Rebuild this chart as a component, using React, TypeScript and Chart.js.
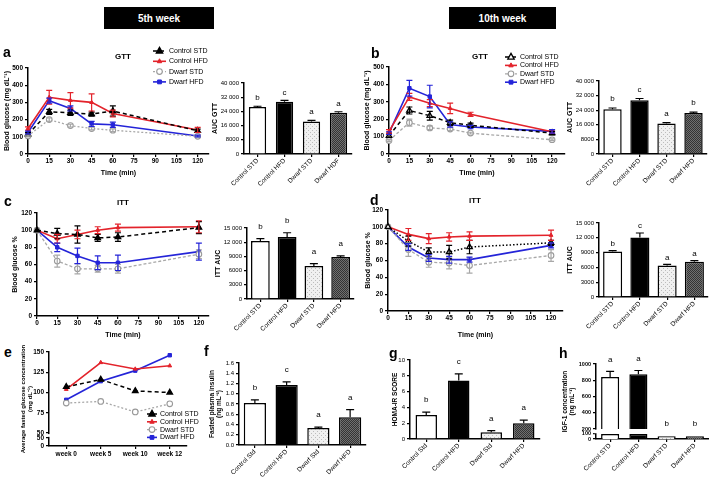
import React, { useEffect, useRef } from "react";
import { Chart, registerables } from "chart.js";
Chart.register(...registerables);

const FONT = "'Liberation Sans', Arial, sans-serif";
Chart.defaults.font.family = FONT;
Chart.defaults.font.size = 7;
Chart.defaults.color = "#000";

// ---------------- DATA ----------------
const times = [0, 15, 30, 45, 60, 120];
const seriesNames = ["Control STD", "Control HFD", "Dwarf STD", "Dwarf HFD"];
const groupsA = ["Control STD", "Control HFD", "Dwarf STD", "Dwarf HDF"];
const groupsB = ["Control STD", "Control HFD", "Dwarf STD", "Dwarf HFD"];
const groupsF = ["Control Std", "Control HFD", "Dwarf Std", "Dwarf HFD"];
const weeks = ["week 0", "week 5", "week 10", "week 12"];

// a: GTT 5th week
const gtt5CtrlStd = [115, 245, 240, 232, 250, 135];
const gtt5CtrlStdErr = [10, 15, 15, 12, 30, 10];
const gtt5CtrlHfd = [148, 330, 312, 300, 235, 140];
const gtt5CtrlHfdErr = [10, 40, 45, 50, 20, 15];
const gtt5DwarfStd = [105, 200, 165, 148, 138, 103];
const gtt5DwarfStdErr = [5, 10, 8, 8, 8, 5];
const gtt5DwarfHfd = [125, 310, 265, 175, 170, 105];
const gtt5DwarfHfdErr = [8, 15, 15, 15, 15, 5];
const aucGtt5 = [26500, 29500, 18300, 23200];
const aucGtt5Err = [400, 700, 700, 600];
const aucGtt5Letters = ["b", "c", "a", "a"];

// b: GTT 10th week
const gtt10CtrlStd = [105, 250, 220, 180, 165, 120];
const gtt10CtrlStdErr = [10, 20, 25, 15, 12, 10];
const gtt10CtrlHfd = [130, 328, 292, 262, 228, 128];
const gtt10CtrlHfdErr = [10, 20, 20, 30, 12, 10];
const gtt10DwarfStd = [78, 180, 150, 143, 120, 82];
const gtt10DwarfStdErr = [5, 20, 10, 8, 5, 5];
const gtt10DwarfHfd = [120, 378, 330, 170, 155, 130];
const gtt10DwarfHfdErr = [8, 45, 65, 15, 10, 10];
const aucGtt10 = [24500, 29500, 16700, 22500];
const aucGtt10Err = [700, 900, 500, 500];
const aucGtt10Letters = ["b", "c", "a", "b"];

// c: ITT 5th week
const itt5CtrlStd = [100, 96, 95, 91, 92, 103];
const itt5CtrlStdErr = [0, 6, 10, 4, 5, 7];
const itt5CtrlHfd = [100, 90, 95, 100, 103, 104];
const itt5CtrlHfdErr = [0, 5, 5, 4, 4, 7];
const itt5DwarfStd = [100, 64, 55, 55, 55, 72];
const itt5DwarfStdErr = [0, 7, 6, 4, 5, 5];
const itt5DwarfHfd = [100, 80, 70, 62, 62, 75];
const itt5DwarfHfdErr = [0, 5, 9, 8, 9, 10];
const aucItt5 = [12250, 13100, 6970, 8870];
const aucItt5Err = [500, 900, 500, 250];
const aucItt5Letters = ["b", "b", "a", "a"];

// d: ITT 10th week
const itt10CtrlStd = [100, 83, 70, 70, 76, 81];
const itt10CtrlStdErr = [0, 6, 5, 8, 8, 3];
const itt10CtrlHfd = [100, 91, 86, 88, 89, 90];
const itt10CtrlHfdErr = [0, 7, 6, 5, 5, 6];
const itt10DwarfStd = [100, 73, 58, 57, 54, 66];
const itt10DwarfStdErr = [0, 8, 6, 7, 9, 7];
const itt10DwarfHfd = [100, 76, 63, 61, 61, 78];
const itt10DwarfHfdErr = [0, 4, 4, 4, 3, 3];
const aucItt10 = [9200, 12070, 6400, 7160];
const aucItt10Err = [200, 900, 200, 200];
const aucItt10Letters = ["b", "c", "a", "a"];

// e: average fasted glucose
const fgCtrlStd = [107, 116, 102, 100];
const fgCtrlHfd = [104, 137, 129, 133];
const fgDwarfStd = [87, 89, 76, 86];
const fgDwarfHfd = [91, 114, 127, 146];
const fgLowerTicks = [0, 50];
const fgUpperTicks = [50, 75, 100, 125, 150];

// f: fasted plasma insulin
const insulin = [0.82, 1.17, 0.33, 0.54];
const insulinErr = [0.06, 0.06, 0.02, 0.15];
const insulinLetters = ["b", "c", "a", "a"];

// g: HOMA-IR
const homa = [3.05, 7.4, 0.85, 2.0];
const homaErr = [0.35, 0.85, 0.2, 0.4];
const homaLetters = ["b", "c", "a", "a"];

// h: IGF-1
const igf = [840, 875, 55, 55];
const igfErr = [70, 45, 0, 0];
const igfLetters = ["a", "a", "b", "b"];
const igfLowerTicks = [0, 100];
const igfUpperTicks = [200, 400, 600, 800, 1000];

// ---------------- HELPERS ----------------
const lowE = (v: number) => 34 + v * 0.2; // broken-axis lower segment of panel e
const lowH = (v: number) => 77 + v * 0.62; // broken-axis lower segment of panel h

const valueAt = (d: any) =>
  d == null ? null : Array.isArray(d) ? d[1] : typeof d === "object" ? d.y : d;

function drawMarker(ctx: CanvasRenderingContext2D, style: string, x: number, y: number, r: number, fill: string, stroke: string, lw: number) {
  ctx.beginPath();
  if (style === "triangle") {
    ctx.moveTo(x, y - r * 1.15);
    ctx.lineTo(x + r, y + r * 0.65);
    ctx.lineTo(x - r, y + r * 0.65);
    ctx.closePath();
  } else if (style === "rect") {
    ctx.rect(x - r * 0.8, y - r * 0.8, r * 1.6, r * 1.6);
  } else {
    ctx.arc(x, y, r, 0, Math.PI * 2);
  }
  ctx.fillStyle = fill;
  ctx.fill();
  ctx.lineWidth = lw;
  ctx.strokeStyle = stroke;
  ctx.stroke();
}

const errorBars = {
  id: "errorBars",
  afterDatasetsDraw(chart: any) {
    const ctx = chart.ctx;
    chart.data.datasets.forEach((ds: any, i: number) => {
      if (!ds.errs) return;
      const meta = chart.getDatasetMeta(i);
      const ys = chart.scales[meta.yAxisID];
      const isBar = meta.type === "bar";
      ctx.save();
      ctx.strokeStyle = ds.errColor || ds.borderColor || "#000";
      ctx.lineWidth = 1.2;
      ctx.setLineDash([]);
      meta.data.forEach((el: any, j: number) => {
        const e = ds.errs[j];
        const v = valueAt(ds.data[j]);
        if (!e || v == null) return;
        const top = ys.getPixelForValue(v + e);
        const bot = ys.getPixelForValue(isBar ? v : v - e);
        const cap = isBar ? 4 : 3;
        ctx.beginPath();
        ctx.moveTo(el.x, top);
        ctx.lineTo(el.x, bot);
        ctx.moveTo(el.x - cap, top);
        ctx.lineTo(el.x + cap, top);
        if (!isBar) {
          ctx.moveTo(el.x - cap, bot);
          ctx.lineTo(el.x + cap, bot);
        }
        ctx.stroke();
      });
      ctx.restore();
    });
  },
};

const letters = {
  id: "letters",
  afterDatasetsDraw(chart: any, _a: any, o: any) {
    if (!o || !o.labels) return;
    const ctx = chart.ctx;
    const ys = chart.scales.y;
    ctx.save();
    ctx.font = `8px ${FONT}`;
    ctx.textAlign = "center";
    ctx.textBaseline = "bottom";
    ctx.fillStyle = "#000";
    o.labels.forEach((lab: string, j: number) => {
      let top = Infinity;
      let x = 0;
      chart.data.datasets.forEach((ds: any, i: number) => {
        const el = chart.getDatasetMeta(i).data[j];
        const v = valueAt(ds.data[j]);
        if (!el || v == null) return;
        x = el.x;
        const e = ds.errs ? ds.errs[j] || 0 : 0;
        top = Math.min(top, ys.getPixelForValue(v + e));
      });
      ctx.fillText(lab, x, top - (o.gap ?? 4));
    });
    ctx.restore();
  },
};

const overlay = {
  id: "overlay",
  afterDraw(chart: any, _a: any, o: any) {
    if (!o || (!o.title && !o.legend)) return;
    const ctx = chart.ctx;
    const ox = o.ox || 0;
    const oy = o.oy || 0;
    ctx.save();
    if (o.title) {
      ctx.font = `bold 8px ${FONT}`;
      ctx.textAlign = "center";
      ctx.textBaseline = "middle";
      ctx.fillStyle = "#000";
      ctx.fillText(o.title.text, o.title.x - ox, o.title.y - oy);
    }
    if (o.legend) {
      const L = o.legend;
      chart.data.datasets.forEach((ds: any, i: number) => {
        const y = L.y + i * L.rowH - oy;
        const x = L.x - ox;
        ctx.strokeStyle = ds.borderColor;
        ctx.lineWidth = ds.borderWidth;
        ctx.setLineDash(ds.borderDash || []);
        ctx.beginPath();
        ctx.moveTo(x, y);
        ctx.lineTo(x + L.lineW, y);
        ctx.stroke();
        ctx.setLineDash([]);
        drawMarker(ctx, ds.pointStyle, x + L.lineW / 2, y, ds.pointRadius, ds.pointBackgroundColor, ds.pointBorderColor, ds.pointBorderWidth || 1);
        ctx.font = `7px ${FONT}`;
        ctx.textAlign = "left";
        ctx.textBaseline = "middle";
        ctx.fillStyle = "#000";
        ctx.fillText(ds.label, x + L.lineW + 3, y);
      });
    }
    ctx.restore();
  },
};

const axisBreak = {
  id: "axisBreak",
  afterDraw(chart: any, _a: any, o: any) {
    if (!o || o.from == null) return;
    const ys = chart.scales.y;
    const ctx = chart.ctx;
    const y1 = ys.getPixelForValue(o.to);
    const y2 = ys.getPixelForValue(o.from);
    const x = chart.chartArea.left;
    ctx.save();
    ctx.fillStyle = "#fff";
    ctx.fillRect(x - 2.5, y1, 5, y2 - y1);
    ctx.restore();
  },
};

Chart.register(errorBars as any, letters as any, overlay as any, axisBreak as any);

const gridOpt = { display: true, drawOnChartArea: false, drawTicks: true, tickLength: 3, color: "#000", lineWidth: 1.2 };
const borderOpt = { display: true, color: "#000", width: 1.5 };

const RED = "#e3232b";
const BLUE = "#2424d8";
const GREY = "#a8a8a8";

const styleCS = (open: boolean, dash: number[]) => ({
  borderColor: "#000", backgroundColor: "#000", borderDash: dash, borderWidth: 1.5,
  pointStyle: "triangle", pointRadius: 3.2, pointBorderColor: "#000",
  pointBackgroundColor: open ? "#fff" : "#000", pointBorderWidth: 1.3,
});
const styleCH = () => ({
  borderColor: RED, backgroundColor: RED, borderWidth: 1.6,
  pointStyle: "triangle", pointRadius: 2.2, pointBorderColor: RED, pointBackgroundColor: RED, pointBorderWidth: 1,
});
const styleDS = (dash: number[]) => ({
  borderColor: GREY, backgroundColor: GREY, borderDash: dash, borderWidth: 1.3,
  pointStyle: "circle", pointRadius: 2.8, pointBorderColor: "#999", pointBackgroundColor: "#fff", pointBorderWidth: 1.1,
});
const styleDH = () => ({
  borderColor: BLUE, backgroundColor: BLUE, borderWidth: 1.6,
  pointStyle: "rect", pointRadius: 2.4, pointBorderColor: BLUE, pointBackgroundColor: BLUE, pointBorderWidth: 1,
});

const lineDs = (label: string, vals: number[], errs: number[] | null, style: any) => ({
  label,
  data: times.map((t, i) => ({ x: t, y: vals[i] })),
  errs,
  clip: false,
  tension: 0,
  ...style,
});

function lineConfig(p: any) {
  return {
    type: "line",
    data: { datasets: p.datasets },
    options: {
      animation: false,
      responsive: false,
      events: [],
      plugins: { legend: { display: false }, tooltip: { enabled: false }, overlay: p.overlay },
      scales: {
        x: {
          type: "linear", min: 0, max: p.xMax,
          ticks: { stepSize: 15, includeBounds: false, padding: 0, maxRotation: 0, font: { weight: "bold", size: 6.5 } },
          grid: gridOpt, border: borderOpt,
          title: { display: true, text: "Time (min)", font: { weight: "bold", size: 7 }, padding: { top: 0, bottom: 1 } },
        },
        y: {
          min: 0, max: p.yMax,
          ticks: { stepSize: p.yStep, padding: 2, font: { weight: "bold", size: 6.5 } },
          grid: gridOpt, border: borderOpt,
          title: { display: true, text: p.yTitle, font: { weight: "bold", size: 7 }, padding: { top: 1, bottom: 0 } },
        },
      },
    },
  };
}

function makePattern(kind: "light" | "dark") {
  const c = document.createElement("canvas");
  c.width = 4;
  c.height = 4;
  const g = c.getContext("2d")!;
  if (kind === "light") {
    g.fillStyle = "#f0f0f0";
    g.fillRect(0, 0, 4, 4);
    g.fillStyle = "#bcbcbc";
    g.fillRect(0, 0, 1, 1);
    g.fillRect(2, 2, 1, 1);
  } else {
    g.fillStyle = "#343434";
    g.fillRect(0, 0, 4, 4);
    g.fillStyle = "#707070";
    g.fillRect(0, 0, 1, 1);
    g.fillRect(2, 0, 1, 1);
    g.fillRect(1, 1, 1, 1);
    g.fillRect(3, 1, 1, 1);
    g.fillRect(0, 2, 1, 1);
    g.fillRect(2, 2, 1, 1);
    g.fillRect(1, 3, 1, 1);
    g.fillRect(3, 3, 1, 1);
  }
  return g.createPattern(c, "repeat")!;
}

const barFills = () => ["#ffffff", "#000000", makePattern("light"), makePattern("dark")];

const fmtThousands = (v: number) =>
  v >= 10000 ? `${Math.floor(v / 1000)} ${String(v % 1000).padStart(3, "0")}` : String(v);

function barConfig(p: any) {
  return {
    type: "bar",
    data: {
      labels: p.labels,
      datasets: [
        {
          data: p.values, errs: p.errs, backgroundColor: barFills(), borderColor: "#000", borderWidth: 1.5,
          barPercentage: p.barPct, categoryPercentage: 1, errColor: "#000",
        },
      ],
    },
    options: {
      animation: false,
      responsive: false,
      events: [],
      plugins: { legend: { display: false }, tooltip: { enabled: false }, letters: { labels: p.letters, gap: p.gap } },
      scales: {
        x: {
          ticks: { minRotation: 45, maxRotation: 45, padding: 0, font: { size: 6.5 } },
          grid: { ...gridOpt, offset: false }, border: borderOpt,
        },
        y: {
          min: 0, max: p.yMax,
          ticks: { stepSize: p.yStep, padding: 2, font: { size: 6 }, callback: p.fmt || ((v: number) => String(v)) },
          grid: gridOpt, border: borderOpt,
          title: { display: true, text: p.yTitle, font: { weight: "bold", size: p.titleSize || 7 }, padding: { top: 1, bottom: 0 } },
        },
      },
    },
  };
}

// ---------------- PANEL BUILDERS ----------------
const buildA = () =>
  lineConfig({
    xMax: 128, yMax: 500, yStep: 50, yTitle: "Blood glucose (mg dL⁻¹)",
    datasets: [
      lineDs(seriesNames[0], gtt5CtrlStd, gtt5CtrlStdErr, styleCS(false, [4, 3])),
      lineDs(seriesNames[1], gtt5CtrlHfd, gtt5CtrlHfdErr, styleCH()),
      lineDs(seriesNames[2], gtt5DwarfStd, gtt5DwarfStdErr, styleDS([2, 2])),
      lineDs(seriesNames[3], gtt5DwarfHfd, gtt5DwarfHfdErr, styleDH()),
    ],
    overlay: { ox: 2, oy: 44, title: { text: "GTT", x: 123, y: 57 }, legend: { x: 153, y: 51, rowH: 10.3, lineW: 13 } },
  });

const buildB = () =>
  lineConfig({
    xMax: 129.5, yMax: 500, yStep: 50, yTitle: "Blood glucose (mg dL⁻¹)",
    datasets: [
      lineDs(seriesNames[0], gtt10CtrlStd, gtt10CtrlStdErr, styleCS(true, [4, 3])),
      lineDs(seriesNames[1], gtt10CtrlHfd, gtt10CtrlHfdErr, styleCH()),
      lineDs(seriesNames[2], gtt10DwarfStd, gtt10DwarfStdErr, styleDS([3, 2])),
      lineDs(seriesNames[3], gtt10DwarfHfd, gtt10DwarfHfdErr, styleDH()),
    ],
    overlay: { ox: 362, oy: 44, title: { text: "GTT", x: 480, y: 57 }, legend: { x: 505, y: 57, rowH: 8.4, lineW: 12 } },
  });

const buildC = () =>
  lineConfig({
    xMax: 127.5, yMax: 120, yStep: 20, yTitle: "Blood glucose %",
    datasets: [
      lineDs(seriesNames[0], itt5CtrlStd, itt5CtrlStdErr, styleCS(false, [4, 3])),
      lineDs(seriesNames[1], itt5CtrlHfd, itt5CtrlHfdErr, styleCH()),
      lineDs(seriesNames[2], itt5DwarfStd, itt5DwarfStdErr, styleDS([3, 2])),
      lineDs(seriesNames[3], itt5DwarfHfd, itt5DwarfHfdErr, styleDH()),
    ],
    overlay: { ox: 10, oy: 190, title: { text: "ITT", x: 123, y: 203 } },
  });

const buildD = () =>
  lineConfig({
    xMax: 128.8, yMax: 120, yStep: 20, yTitle: "Blood glucose %",
    datasets: [
      lineDs(seriesNames[0], itt10CtrlStd, itt10CtrlStdErr, styleCS(true, [1.5, 2])),
      lineDs(seriesNames[1], itt10CtrlHfd, itt10CtrlHfdErr, styleCH()),
      lineDs(seriesNames[2], itt10DwarfStd, itt10DwarfStdErr, styleDS([3, 2])),
      lineDs(seriesNames[3], itt10DwarfHfd, itt10DwarfHfdErr, styleDH()),
    ],
    overlay: { ox: 363, oy: 190, title: { text: "ITT", x: 475, y: 201 } },
  });

const buildAucA = () =>
  barConfig({ labels: groupsA, values: aucGtt5, errs: aucGtt5Err, letters: aucGtt5Letters, gap: 4, yMax: 40000, yStep: 8000, yTitle: "AUC GTT", fmt: fmtThousands, barPct: 0.64 });
const buildAucB = () =>
  barConfig({ labels: groupsB, values: aucGtt10, errs: aucGtt10Err, letters: aucGtt10Letters, gap: 5, yMax: 40000, yStep: 8000, yTitle: "AUC GTT", fmt: fmtThousands, barPct: 0.68 });
const buildAucC = () =>
  barConfig({ labels: groupsB, values: aucItt5, errs: aucItt5Err, letters: aucItt5Letters, gap: 8, yMax: 15000, yStep: 3000, yTitle: "ITT AUC", fmt: fmtThousands, barPct: 0.7 });
const buildAucD = () =>
  barConfig({ labels: groupsB, values: aucItt10, errs: aucItt10Err, letters: aucItt10Letters, gap: 3, yMax: 15000, yStep: 3000, yTitle: "ITT AUC", fmt: fmtThousands, barPct: 0.7 });
const buildF = () =>
  barConfig({ labels: groupsF, values: insulin, errs: insulinErr, letters: insulinLetters, gap: 8, yMax: 1.6, yStep: 0.2, yTitle: ["Fasted plasma insulin", "(ng mL⁻¹)"], titleSize: 6.5, fmt: (v: number) => v.toFixed(1), barPct: 0.7 });
const buildG = () =>
  barConfig({ labels: groupsF, values: homa, errs: homaErr, letters: homaLetters, gap: 8, yMax: 10, yStep: 1, yTitle: "HOMA-IR SCORE", titleSize: 6.5, barPct: 0.66 });

const buildE = () => {
  const mk = (label: string, vals: number[], style: any) => ({ label, data: vals, clip: false, tension: 0, ...style });
  const tickVals = [...fgLowerTicks.map(lowE), ...fgUpperTicks];
  const tickLabels = [...fgLowerTicks, ...fgUpperTicks].map(String);
  return {
    type: "line",
    data: {
      labels: weeks,
      datasets: [
        mk(seriesNames[0], fgCtrlStd, styleCS(false, [4, 3])),
        mk(seriesNames[1], fgCtrlHfd, styleCH()),
        mk(seriesNames[2], fgDwarfStd, styleDS([2, 2])),
        mk(seriesNames[3], fgDwarfHfd, styleDH()),
      ],
    },
    options: {
      animation: false,
      responsive: false,
      events: [],
      plugins: {
        legend: { display: false }, tooltip: { enabled: false },
        overlay: { ox: 19, oy: 340, legend: { x: 147, y: 414, rowH: 7.8, lineW: 10 } },
        axisBreak: { from: 45.3, to: 48.7 },
      },
      scales: {
        x: {
          type: "category", offset: true,
          ticks: { padding: 1, maxRotation: 0, font: { weight: "bold", size: 6.5 } },
          grid: { ...gridOpt, offset: false }, border: borderOpt,
        },
        y: {
          min: lowE(0), max: 150,
          afterBuildTicks: (s: any) => { s.ticks = tickVals.map((v) => ({ value: v })); },
          ticks: { padding: 2, font: { weight: "bold", size: 6.5 }, callback: (_v: any, i: number) => tickLabels[i] },
          grid: gridOpt, border: borderOpt,
          title: { display: true, text: ["Average fasted glucose concentration", "(mg dL⁻¹)"], font: { weight: "bold", size: 6 }, padding: { top: 1, bottom: 0 } },
        },
      },
    },
  };
};

const buildH = () => {
  const fills = barFills();
  const lower = igf.map((v) => [lowH(0), lowH(Math.min(v, 100))]);
  const upper = igf.map((v) => (v > 200 ? [200, v] : null));
  const tickVals = [...igfLowerTicks.map(lowH), ...igfUpperTicks];
  const tickLabels = [...igfLowerTicks, ...igfUpperTicks].map(String);
  return {
    type: "bar",
    data: {
      labels: groupsB,
      datasets: [
        { data: lower, backgroundColor: fills, borderColor: "#000", borderWidth: 1.5, barPercentage: 0.64, categoryPercentage: 1, grouped: false },
        { data: upper, errs: igfErr, errColor: "#000", backgroundColor: fills, borderColor: "#000", borderWidth: 1.5, barPercentage: 0.64, categoryPercentage: 1, grouped: false },
      ],
    },
    options: {
      animation: false,
      responsive: false,
      events: [],
      plugins: {
        legend: { display: false }, tooltip: { enabled: false },
        letters: { labels: igfLetters, gap: 8 },
        axisBreak: { from: 148, to: 192 },
      },
      scales: {
        x: {
          ticks: { minRotation: 45, maxRotation: 45, padding: 0, font: { size: 6.5 } },
          grid: { ...gridOpt, offset: false }, border: borderOpt,
        },
        y: {
          min: lowH(0), max: 1000,
          afterBuildTicks: (s: any) => { s.ticks = tickVals.map((v) => ({ value: v })); },
          ticks: { padding: 2, font: { weight: "bold", size: 5.5 }, callback: (_v: any, i: number) => tickLabels[i] },
          grid: gridOpt, border: borderOpt,
          title: { display: true, text: ["IGF-1 concentration", "(ng mL⁻¹)"], font: { weight: "bold", size: 6.5 }, padding: { top: 1, bottom: 0 } },
        },
      },
    },
  };
};

// ---------------- COMPONENTS ----------------
type Box = [number, number, number, number];
type Area = [number, number, number, number];

function ChartPanel({ box, area, build }: { box: Box; area: Area; build: () => any }) {
  const ref = useRef<HTMLCanvasElement>(null);
  useEffect(() => {
    const [L, T, W, H] = box;
    const [x1, y1, x2, y2] = area;
    const cfg = build();
    cfg.options.layout = { padding: { left: 0, top: y1 - T, right: L + W - x2, bottom: 0 } };
    cfg.options.scales.x.afterFit = (s: any) => { s.height = T + H - y2; };
    cfg.options.scales.y.afterFit = (s: any) => { s.width = x1 - L; };
    const chart = new Chart(ref.current as HTMLCanvasElement, cfg as any);
    return () => chart.destroy();
  }, []);
  return (
    <canvas
      ref={ref}
      width={box[2]}
      height={box[3]}
      style={{ position: "absolute", left: box[0], top: box[1], width: box[2], height: box[3] }}
    />
  );
}

const letterStyle = (x: number, y: number): React.CSSProperties => ({
  position: "absolute", left: x, top: y, font: `bold 14px ${FONT}`, lineHeight: "14px", color: "#000",
});

const headerStyle = (x: number, w: number): React.CSSProperties => ({
  position: "absolute", left: x, top: 7, width: w, height: 22, background: "#000", color: "#fff",
  font: `bold 10px ${FONT}`, display: "flex", alignItems: "center", justifyContent: "center",
});

export default function App() {
  return (
    <div style={{ position: "fixed", left: 0, top: 0, width: 709, height: 477, background: "#fff", overflow: "hidden" }}>
      <div style={headerStyle(104, 110)}>5th week</div>
      <div style={headerStyle(449, 107)}>10th week</div>

      <ChartPanel box={[2, 44, 213, 134]} area={[28, 68, 209, 154]} build={buildA} />
      <ChartPanel box={[210, 72, 146, 118]} area={[244, 83, 352, 154]} build={buildAucA} />
      <ChartPanel box={[362, 44, 210, 134]} area={[389, 67, 565, 154]} build={buildB} />
      <ChartPanel box={[565, 72, 144, 118]} area={[599, 81, 707, 154]} build={buildAucB} />

      <ChartPanel box={[10, 190, 205, 150]} area={[37, 213, 209, 316]} build={buildC} />
      <ChartPanel box={[213, 210, 145, 125]} area={[247, 228, 354, 299]} build={buildAucC} />
      <ChartPanel box={[363, 190, 210, 150]} area={[388, 210, 563, 311]} build={buildD} />
      <ChartPanel box={[565, 210, 144, 125]} area={[599, 223, 708, 297]} build={buildAucD} />

      <ChartPanel box={[19, 340, 191, 137]} area={[49, 352, 187, 446]} build={buildE} />
      <ChartPanel box={[207, 345, 163, 132]} area={[239, 363, 366, 445]} build={buildF} />
      <ChartPanel box={[390, 345, 155, 132]} area={[410, 360, 540, 439]} build={buildG} />
      <ChartPanel box={[560, 340, 149, 137]} area={[596, 364, 709, 439]} build={buildH} />

      <div style={letterStyle(3, 45)}>a</div>
      <div style={letterStyle(371, 46)}>b</div>
      <div style={letterStyle(4, 194)}>c</div>
      <div style={letterStyle(370, 193)}>d</div>
      <div style={letterStyle(4, 345)}>e</div>
      <div style={letterStyle(204, 344)}>f</div>
      <div style={letterStyle(389, 346)}>g</div>
      <div style={letterStyle(559, 346)}>h</div>
    </div>
  );
}
